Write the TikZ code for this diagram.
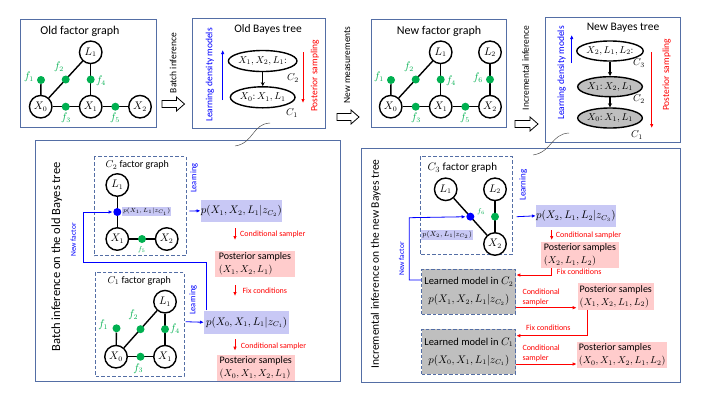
\documentclass[tikz,border=0pt]{standalone}
\usepackage{fontspec}
\setmainfont{Carlito}
\usetikzlibrary{arrows.meta,shapes.geometric}
\definecolor{panelc}{RGB}{84,110,165}
\definecolor{facg}{RGB}{0,176,80}
\definecolor{lav}{RGB}{200,200,245}
\definecolor{pinkc}{RGB}{255,204,204}
\definecolor{grayc}{RGB}{191,191,191}
\definecolor{curvec}{RGB}{80,80,80}
\newcommand\myfs[1]{\fontsize{#1}{#1}\selectfont}
\begin{document}
\begin{tikzpicture}[x=1pt,y=-1pt,
  panel/.style={draw=panelc,line width=0.9pt,fill=white},
  var/.style={circle,draw,line width=1.4pt,minimum size=22.5pt,inner sep=0pt,fill=white,font=\myfs{10.5}},
  fac/.style={circle,fill=facg,minimum size=8pt,inner sep=0pt},
  bfac/.style={circle,fill=blue,minimum size=8pt,inner sep=0pt},
  flab/.style={text=facg,font=\myfs{10.5},inner sep=0pt},
  sflab/.style={text=facg,font=\myfs{7.5},inner sep=0pt},
  edge/.style={line width=1.4pt},
  ttl/.style={font=\myfs{11.5},inner sep=0pt},
  sttl/.style={font=\myfs{10},inner sep=0pt},
  dbox/.style={draw=panelc,line width=0.9pt,dash pattern=on 3.5pt off 2pt},
  bt/.style={ellipse,draw,line width=1.4pt,minimum width=57pt,minimum height=21pt,inner sep=0pt,font=\myfs{10}},
  hollow/.style={draw,line width=0.8pt,fill=white},
  rtext/.style={rotate=90,inner sep=0pt,font=\myfs{9.5}},
  barr/.style={blue,line width=0.8pt,-{Latex[length=4pt,width=3.5pt]}},
  rarr/.style={red,line width=0.8pt,-{Latex[length=4pt,width=3.5pt]}},
  redtxt/.style={text=red,font=\myfs{8},inner sep=0pt},
  lavbox/.style={fill=lav,inner sep=0pt,font=\myfs{10.5}},
  pinkbox/.style={fill=pinkc,inner sep=2pt,align=left,font=\fontsize{10}{13}\selectfont},
  learned/.style={fill=grayc,draw=panelc,line width=0.9pt,dash pattern=on 3.5pt off 2pt,align=center,minimum width=94pt,minimum height=45pt,inner sep=0pt,font=\fontsize{10.5}{18}\selectfont},
  curv/.style={curvec,line width=0.5pt}
]
\useasboundingbox (0,0) rectangle (706,397);

% ================= Old factor graph =================
\draw[panel] (20,19) rectangle (156,127);
\node[ttl,font=\myfs{12}] (oft) at (80,31) {Old factor graph};
\node[var] (oL1) at (90.7,52.3) {$L_1$};
\node[var] (oX0) at (40.7,106.7) {$X_0$};
\node[var] (oX1) at (90.7,106.7) {$X_1$};
\node[var] (oX2) at (140,106.7) {$X_2$};
\node[fac] (of1) at (41,80) {};
\draw[edge] (of1) -- (oX0);
\draw[edge] (oX0) -- node[fac] (of2) {} (oL1);
\draw[edge] (oL1) -- node[fac] (of4) {} (oX1);
\draw[edge] (oX0) -- node[fac] (of3) {} (oX1);
\draw[edge] (oX1) -- node[fac] (of5) {} (oX2);
\node[flab] (ol1) at (29,77) {$f_1$};
\node[flab] (ol2) at (59,67) {$f_2$};
\node[flab] (ol4) at (101,81) {$f_4$};
\node[flab] (ol3) at (66,118) {$f_3$};
\node[flab] (ol5) at (115,118) {$f_5$};

% arrow: Batch inference
\draw[hollow] (162,100.5) -- (176.5,100.5) -- (176.5,97) -- (184.5,104) -- (176.5,111) -- (176.5,107.5) -- (162,107.5) -- cycle;
\node[rtext] (tbi) at (173,63) {Batch inference};

% ================= Old Bayes tree =================
\draw[panel] (192,18) rectangle (325,128);
\node[ttl] (obt) at (268,29) {Old Bayes tree};
\node[bt] (ob2) at (262.7,61) {$X_1, X_2, L_1{:}$};
\node[bt] (ob1) at (262.7,97.3) {$X_0{:}\,X_1, L_1$};
\draw[line width=1.4pt,-{Stealth[length=4pt,width=4pt]}] (ob2) -- (ob1);
\node[font=\myfs{10},inner sep=0pt] (obc2) at (293,78) {$C_2$};
\node[font=\myfs{10},inner sep=0pt] (obc1) at (292,113) {$C_1$};
\coordinate (oba) at (222.7,100);
\coordinate (obb) at (222.7,50);
\draw[barr] (oba) -- (obb);
\node[rtext,text=blue] (obl) at (210,75) {Learning density models};
\coordinate (obc) at (303,52);
\coordinate (obd) at (303,103);
\draw[rarr] (obc) -- (obd);
\node[rtext,text=red] (obp) at (315,76) {Posterior sampling};

% arrow: New measurements
\draw[hollow] (337,113.5) -- (351,113.5) -- (351,110) -- (359,117) -- (351,124) -- (351,120.5) -- (337,120.5) -- cycle;
\node[rtext] (tnm) at (347,65) {New measurements};

% ================= New factor graph =================
\draw[panel] (371.5,19) rectangle (506.5,127);
\node[ttl,font=\myfs{12}] (nft) at (439,31) {New factor graph};
\node[var] (nL1) at (440.7,52.3) {$L_1$};
\node[var] (nL2) at (490,52.3) {$L_2$};
\node[var] (nX0) at (390.7,106.7) {$X_0$};
\node[var] (nX1) at (440.7,106.7) {$X_1$};
\node[var] (nX2) at (490,106.7) {$X_2$};
\node[fac] (nf1) at (391,80) {};
\draw[edge] (nf1) -- (nX0);
\draw[edge] (nX0) -- node[fac] (nf2) {} (nL1);
\draw[edge] (nL1) -- node[fac] (nf4) {} (nX1);
\draw[edge] (nL2) -- node[fac] (nf6) {} (nX2);
\draw[edge] (nX0) -- node[fac] (nf3) {} (nX1);
\draw[edge] (nX1) -- node[fac] (nf5) {} (nX2);
\node[flab] (nl1) at (379,77) {$f_1$};
\node[flab] (nl2) at (409,67) {$f_2$};
\node[flab] (nl4) at (451,81) {$f_4$};
\node[flab] (nl6) at (478,78) {$f_6$};
\node[flab] (nl3) at (416,118) {$f_3$};
\node[flab] (nl5) at (465,118) {$f_5$};

% arrow: Incremental inference
\draw[hollow] (515,120.5) -- (530,120.5) -- (530,117) -- (538,124) -- (530,131) -- (530,127.5) -- (515,127.5) -- cycle;
\node[rtext,font=\myfs{9.5}] (tii) at (525.7,68) {Incremental inference};

% ================= New Bayes tree =================
\draw[panel] (545,17) rectangle (680,142);
\node[ttl] (nbt) at (623,28) {New Bayes tree};
\node[bt,minimum height=20pt] (nb3) at (610,51) {$X_2, L_1, L_2{:}$};
\node[bt,minimum height=20pt,fill=grayc] (nb2) at (610,86.7) {$X_1{:}\,X_2, L_1$};
\node[bt,minimum height=20pt,fill=grayc] (nb1) at (610,118) {$X_0{:}\,X_1, L_1$};
\draw[line width=1.4pt,-{Stealth[length=4pt,width=4pt]}] (nb3) -- (nb2);
\draw[line width=1.4pt,-{Stealth[length=4pt,width=4pt]}] (nb2) -- (nb1);
\node[font=\myfs{10},inner sep=0pt] (nbc3) at (639,63) {$C_3$};
\node[font=\myfs{10},inner sep=0pt] (nbc2) at (639,99) {$C_2$};
\node[font=\myfs{10},inner sep=0pt] (nbc1) at (637,135) {$C_1$};
\coordinate (nba) at (571.7,63);
\coordinate (nbb) at (571.7,35);
\draw[barr] (nba) -- (nbb);
\node[rtext,text=blue] (nbl) at (561.7,73) {Learning density models};
\coordinate (nbc) at (651.7,52);
\coordinate (nbd) at (651.7,128);
\draw[rarr] (nbc) -- (nbd);
\node[rtext,text=red] (nbp) at (666.7,75) {Posterior sampling};

% ================= Bottom-left panel =================
\draw[panel] (35,140) rectangle (340,381);
\coordinate (cu1a) at (270,123);
\coordinate (cu1b) at (235,146);
\draw[curv] (cu1a) .. controls (252,124) and (254,143) .. (cu1b);
\node[rtext,font=\myfs{12.5}] (bli) at (56.7,257) {Batch inference on the old Bayes tree};

% C2 factor graph
\draw[dbox] (94.3,156.7) rectangle (186,255.7);
\node[sttl] (c2t) at (137.3,165) {$C_2$ factor graph};
\node[var] (aL1) at (117.3,185) {$L_1$};
\node[var] (aX1) at (117.3,239) {$X_1$};
\node[var] (aX2) at (166.7,239) {$X_2$};
\draw[edge] (aL1) -- node[bfac] (abd) {} (aX1);
\draw[edge] (aX1) -- node[fac] (af5) {} (aX2);
\node[sflab] (al5) at (141.7,250) {$f_5$};
\node[lavbox,font=\myfs{6.5},inner sep=1pt] (asm) at (146.7,211.5) {$p(X_1,L_1|z_{C_1})$};
\node[rtext,text=blue,font=\myfs{8.5}] (alr) at (194.3,178) {Learning};
\node[lavbox,minimum width=76pt,minimum height=21.7pt] (pA) at (241.3,210.8) {$p(X_1,X_2,L_1|z_{C_2})$};
\coordinate (ala) at (189.3,211);
\draw[barr] (ala) -- (pA.west);
\coordinate (aca) at (235,228);
\coordinate (acb) at (235,240);
\draw[rarr] (aca) -- (acb);
\node[redtxt,anchor=west] (act) at (240,234.5) {Conditional sampler};
\node[pinkbox,minimum width=80pt,minimum height=22.3pt] (psA) at (255,263.8) {Posterior samples\\$(X_1,X_2,L_1)$};

% C1 factor graph
\draw[dbox] (95,272.3) rectangle (184,376);
\node[sttl] (c1t) at (139.3,280.7) {$C_1$ factor graph};
\node[var] (bL1) at (165,301.7) {$L_1$};
\node[var] (bX0) at (116,356.7) {$X_0$};
\node[var] (bX1) at (165,356.7) {$X_1$};
\node[fac] (bf1) at (116.5,328.3) {};
\draw[edge] (bf1) -- (bX0);
\draw[edge] (bX0) -- node[fac] (bf2) {} (bL1);
\draw[edge] (bL1) -- node[fac] (bf4) {} (bX1);
\draw[edge] (bX0) -- node[fac] (bf3) {} (bX1);
\node[flab] (bl1) at (103.3,325) {$f_1$};
\node[flab] (bl2) at (133.3,315) {$f_2$};
\node[flab] (bl4) at (175,329) {$f_4$};
\node[flab] (bl3) at (138.3,368.3) {$f_3$};
\node[rtext,text=blue,font=\myfs{8.5}] (blr) at (193.3,300) {Learning};
\node[lavbox,minimum width=85.3pt,minimum height=23.3pt] (pB) at (246.7,322.3) {$p(X_0,X_1,L_1|z_{C_1})$};
\coordinate (bla) at (185.7,321.7);
\draw[barr] (bla) -- (pB.west);
\coordinate (bfa) at (235,285);
\coordinate (bfb) at (235,296);
\draw[rarr] (bfa) -- (bfb);
\node[redtxt,anchor=west] (bft) at (242.3,290.5) {Fix conditions};
\coordinate (bca) at (235,339.3);
\coordinate (bcb) at (235,350.7);
\draw[rarr] (bca) -- (bcb);
\node[redtxt,anchor=west] (bct) at (240.7,346) {Conditional sampler};
\node[pinkbox,minimum width=78.3pt,minimum height=22.6pt] (psB) at (255.8,368) {Posterior samples\\$(X_0,X_1,X_2,L_1)$};

% New factor connector (left)
\coordinate (nfA) at (83.3,262.7);
\draw[barr] ([xshift=2.7pt]pB.north west) |- (nfA) |- (abd);
\node[rtext,text=blue,font=\myfs{7.5}] (nft1) at (73.3,240) {New factor};

% ================= Bottom-right panel =================
\draw[panel] (361,148) rectangle (680,382);
\coordinate (cu2a) at (569,133);
\coordinate (cu2b) at (533,155);
\draw[curv] (cu2a) .. controls (551,134) and (552,152) .. (cu2b);
\node[rtext,font=\myfs{11.5}] (bri) at (375.7,264) {Incremental inference on the new Bayes tree};

% C3 factor graph
\draw[dbox] (420,156.7) rectangle (512.3,254.3);
\node[ttl,font=\myfs{11}] (c3t) at (462.3,167.7) {$C_3$ factor graph};
\node[var] (cL1) at (445.7,189.3) {$L_1$};
\node[var] (cL2) at (495,189.3) {$L_2$};
\node[var] (cX2) at (495,244) {$X_2$};
\draw[edge] (cL1) -- node[bfac] (cbd) {} (cX2);
\draw[edge] (cL2) -- node[fac] (cf6) {} (cX2);
\node[sflab] (cl6) at (481,212) {$f_6$};
\node[lavbox,font=\myfs{7},inner sep=1pt] (csm) at (447.2,235) {$p(X_2,L_1|z_{C_2})$};
\node[rtext,text=blue,font=\myfs{9}] (clr) at (523.3,185) {Learning};
\node[lavbox,minimum width=78.3pt,minimum height=21.7pt] (pC) at (575.8,215.8) {$p(X_2,L_1,L_2|z_{C_3})$};
\coordinate (cla) at (516.7,216.7);
\draw[barr] (cla) -- (pC.west);
\coordinate (cca) at (551.7,230);
\coordinate (ccb) at (551.7,240);
\draw[rarr] (cca) -- (ccb);
\node[redtxt,anchor=west] (cct) at (555.7,235.7) {Conditional sampler};
\node[pinkbox,minimum width=78.6pt,minimum height=23.4pt] (psC) at (580,255) {Posterior samples\\$(X_2,L_1,L_2)$};

% Learned models
\node[learned] (lm2) at (468.85,291.5) {Learned model in $C_2$\\$p(X_1,X_2,L_1|z_{C_2})$};
\node[learned] (lm1) at (468.85,351.65) {Learned model in $C_1$\\$p(X_0,X_1,L_1|z_{C_1})$};

% New factor connector (right)
\coordinate (nfB) at (409.3,217.7);
\draw[barr] ([yshift=11.5pt]lm2.west) -| (nfB) -- (cbd);
\node[rtext,text=blue,font=\myfs{7.5}] (nft2) at (401.7,259) {New factor};

% Fix conditions 1
\draw[rarr] ([xshift=-29pt]psC.south) |- ([yshift=16.5pt]lm2.east);
\node[redtxt,anchor=west] (fc1) at (556.7,271.5) {Fix conditions};

% Conditional sampler C2
\node[redtxt,anchor=west,align=left,font=\fontsize{8}{10}\selectfont] (cs2) at (522.3,297.3) {Conditional\\sampler};
\coordinate (cs2e) at (576.7,307.7);
\draw[rarr] ([yshift=-16.2pt]lm2.east) -- (cs2e);
\node[pinkbox,minimum width=65pt,minimum height=24pt] (psD) at (615.8,296.3) {Posterior samples\\$(X_1,X_2,L_1,L_2)$};

% Fix conditions 2
\draw[rarr] ([xshift=-28.1pt]psD.south) |- ([yshift=15.95pt]lm1.east);
\node[redtxt] (fc2) at (548.3,327.7) {Fix conditions};

% Conditional sampler C1
\node[redtxt,anchor=west,align=left,font=\fontsize{8}{10}\selectfont] (cs1) at (522.3,353.6) {Conditional\\sampler};
\coordinate (cs1e) at (576.7,364);
\draw[rarr] ([yshift=-12.35pt]lm1.east) -- (cs1e);
\node[pinkbox,minimum width=77.7pt,minimum height=23.4pt] (psE) at (622.2,355) {Posterior samples\\$(X_0,X_1,X_2,L_1,L_2)$};
\end{tikzpicture}
\end{document}
